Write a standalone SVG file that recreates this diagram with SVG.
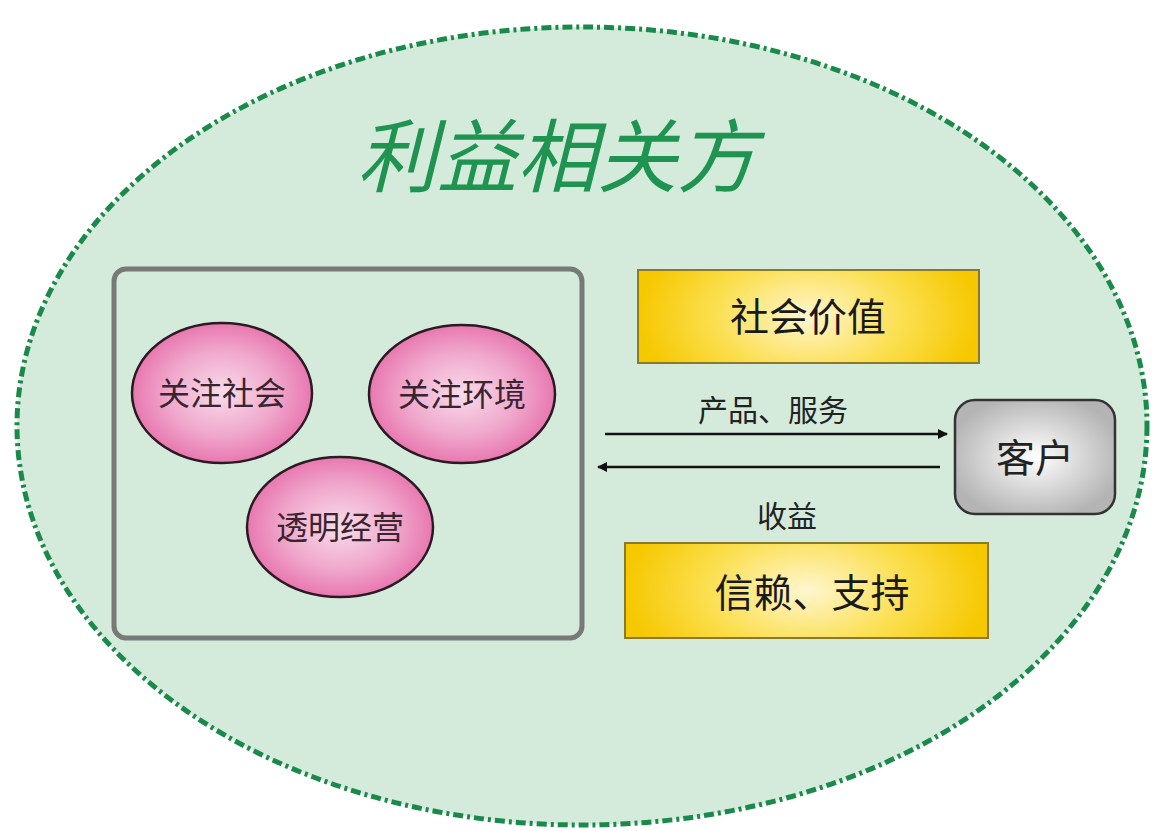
<svg xmlns="http://www.w3.org/2000/svg" width="1155" height="831" viewBox="0 0 1155 831">
<defs>
<style>
.cjk{font-family:"Noto Sans CJK SC","Noto Sans",sans-serif;}
.pill{stroke:#2a1a22;stroke-width:2.5;fill:url(#pink);}
.pilltxt{font-size:32px;fill:#3a2430;text-anchor:middle;}
.gold{fill:url(#gold);stroke:#8a7a30;stroke-width:2;}
.goldtxt{font-size:39px;fill:#1a1a1a;text-anchor:middle;}
.lbl{font-size:30px;fill:#222;text-anchor:middle;}
.arrow{stroke:#111;stroke-width:2.5;fill:none;}
</style>
<radialGradient id="pink" cx="0.5" cy="0.5" r="0.5">
<stop offset="0" stop-color="#f8dcea"/>
<stop offset="0.6" stop-color="#f0a8cc"/>
<stop offset="1" stop-color="#e878b0"/>
</radialGradient>
<radialGradient id="gold" cx="0.5" cy="0.5" r="0.5" gradientTransform="translate(0.5 0.5) scale(1 2.2) translate(-0.5 -0.5)">
<stop offset="0" stop-color="#fff6d0"/>
<stop offset="0.55" stop-color="#fbdf50"/>
<stop offset="1" stop-color="#f6c800"/>
</radialGradient>
<radialGradient id="grey" cx="0.5" cy="0.5" r="0.55">
<stop offset="0" stop-color="#ffffff"/>
<stop offset="1" stop-color="#b4b4b4"/>
</radialGradient>
<marker id="ah" viewBox="0 0 10 10" refX="9" refY="5" markerWidth="12" markerHeight="10" markerUnits="userSpaceOnUse" orient="auto">
<path d="M0,0 L10,5 L0,10 z" fill="#111"/>
</marker>
</defs>
<rect width="1155" height="831" fill="#ffffff"/>
<g id="stakeholders">
<ellipse cx="582" cy="426" rx="565" ry="399" fill="#d4ebdc" stroke="#1a8a4a" stroke-width="5" stroke-dasharray="10 4 3 4"/>
<text x="557" y="186" class="cjk" font-size="80" font-style="italic" fill="#1e9450" text-anchor="middle">利益相关方</text>
</g>
<g id="company">
<rect x="114" y="269" width="468" height="369" rx="12" fill="#d4ebdc" stroke="#777a77" stroke-width="5"/>
</g>
<g id="node-society">
<ellipse cx="222" cy="393" rx="90" ry="70" class="pill"/>
<text x="222" y="405" class="cjk pilltxt">关注社会</text>
</g>
<g id="node-environment">
<ellipse cx="462" cy="394" rx="93" ry="69" class="pill"/>
<text x="462" y="406" class="cjk pilltxt">关注环境</text>
</g>
<g id="node-transparency">
<ellipse cx="340" cy="527" rx="93" ry="70" class="pill"/>
<text x="340" y="539" class="cjk pilltxt">透明经营</text>
</g>
<g id="node-social-value">
<rect x="638" y="270" width="341" height="93" class="gold"/>
<text x="808" y="331" class="cjk goldtxt">社会价值</text>
</g>
<g id="node-trust">
<rect x="625" y="543" width="363" height="95" class="gold"/>
<text x="812" y="607" class="cjk goldtxt">信赖、支持</text>
</g>
<g id="node-customer">
<rect x="955" y="400" width="160" height="114" rx="20" fill="url(#grey)" stroke="#333" stroke-width="2.5"/>
<text x="1035" y="472" class="cjk" font-size="39" fill="#222" text-anchor="middle">客户</text>
</g>
<g id="connectors">
<line x1="605" y1="434" x2="947" y2="434" class="arrow" marker-end="url(#ah)"/>
<line x1="940" y1="467" x2="598" y2="467" class="arrow" marker-end="url(#ah)"/>
<text x="773" y="421" class="cjk lbl">产品、服务</text>
<text x="787" y="527" class="cjk lbl">收益</text>
</g>
</svg>
